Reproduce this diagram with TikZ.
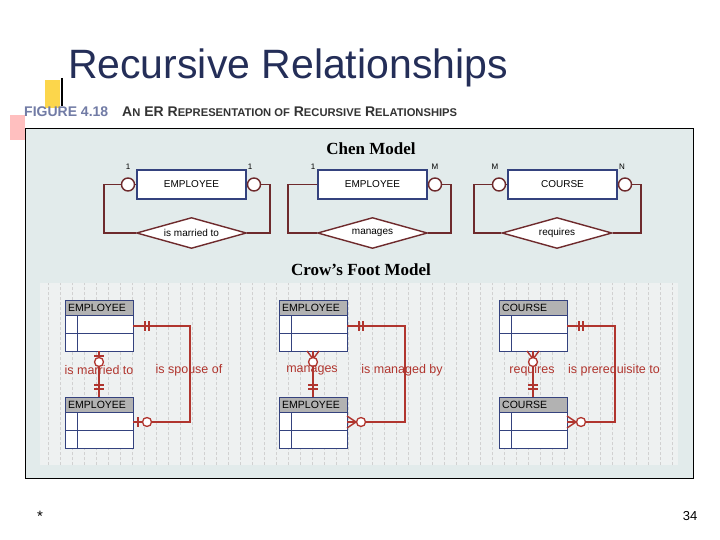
\documentclass[tikz,border=0pt]{standalone}
\usepackage{fontspec}
\usetikzlibrary{shapes.geometric}
\setmainfont{Liberation Sans}
\newfontfamily\serifx{Liberation Serif}
\begin{document}
\begin{tikzpicture}[x=1pt,y=-1pt,
  chenline/.style={draw=maroon,line width=1.6pt},
  ent/.style={draw=navy,line width=1.3pt,fill=white,minimum width=109pt,minimum height=29pt,font=\fontsize{10}{11}\selectfont,inner sep=0pt},
  rel/.style={draw=maroon,line width=1.4pt,fill=white,font=\fontsize{10}{11}\selectfont,diamond,aspect=3.6,minimum width=110pt,minimum height=31pt,inner sep=0pt},
  card/.style={font=\fontsize{8}{9}\selectfont},
  crow/.style={draw=crimson,line width=1.4pt},
  lab/.style={text=crimson,font=\fontsize{12.5}{14}\selectfont},
  ring/.style={circle,draw=maroon,line width=1.4pt,fill=white,minimum size=13pt,inner sep=0pt},
  cring/.style={circle,draw=crimson,line width=1.3pt,fill=white,minimum size=9pt,inner sep=0pt}]
\definecolor{maroon}{HTML}{6E2A2C}
\definecolor{navy}{HTML}{34427E}
\definecolor{crimson}{HTML}{B0352E}
\definecolor{panel}{HTML}{E2EBEB}
\definecolor{gridbg}{HTML}{EEF1F1}
\useasboundingbox (0,0) rectangle (720,540);
\fill[white] (0,0) rectangle (720,540);
% decorations
\fill[yellow!60!orange!70] (45,80) rectangle (60,108);
\fill[red!25] (10,115) rectangle (25,140);
\draw[line width=1.2pt] (62,78) -- (62,106);
\node[font=\fontsize{41}{46}\selectfont,text=navy!70!black] (title) at (288,68) {Recursive Relationships};
\node[anchor=west,font=\fontsize{14}{16}\selectfont\bfseries,text=black!80,inner sep=0pt] (cap) at (24,112) {\textcolor{navy!70}{FIGURE 4.18}\quad A\scalebox{0.8}{N} ER R\scalebox{0.8}{EPRESENTATION OF} R\scalebox{0.8}{ECURSIVE} R\scalebox{0.8}{ELATIONSHIPS}};
% panel
\draw[fill=panel,line width=0.8pt] (25,128) rectangle (693,478);
\node[font=\serifx\bfseries\fontsize{17}{19}\selectfont] (chen) at (371,149) {Chen Model};
% Chen 1
\node[ent] (e1) at (191.5,184.5) {EMPLOYEE};
\node[rel] (r1) at (191.5,233) {is married to};
\node[ring] (c1a) at (128,184.5) {};
\node[ring] (c1b) at (254,184.5) {};
\draw[chenline] (c1a) -- (e1.west) (c1b) -- (e1.east);
\draw[chenline] (c1a.west) -- (104,184.5) -- (104,233) -- (r1.west);
\draw[chenline] (c1b.east) -- (270,184.5) -- (270,233) -- (r1.east);
\node[card] at (128,167) {1};\node[card] at (250,167) {1};
% Chen 2
\node[ent] (e2) at (372.5,184.5) {EMPLOYEE};
\node[rel] (r2) at (372.5,233) {manages};
\node[ring] (c2b) at (435,184.5) {};
\draw[chenline] (c2b) -- (e2.east);
\draw[chenline] (e2.west) -- (288,184.5) -- (288,233) -- (r2.west);
\draw[chenline] (c2b.east) -- (451,184.5) -- (451,233) -- (r2.east);
\node[card] at (313,167) {1};\node[card] at (435,167) {M};
% Chen 3
\node[ent] (e3) at (562.5,184.5) {COURSE};
\node[rel] (r3) at (557,233) {requires};
\node[ring] (c3a) at (499,184.5) {};
\node[ring] (c3b) at (625,184.5) {};
\draw[chenline] (c3a) -- (e3.west) (c3b) -- (e3.east);
\draw[chenline] (c3a.west) -- (474,184.5) -- (474,233) -- (r3.west);
\draw[chenline] (c3b.east) -- (641,184.5) -- (641,233) -- (r3.east);
\node[card] at (495,167) {M};\node[card] at (622,167) {N};
\node[font=\serifx\bfseries\fontsize{17}{19}\selectfont] (crowt) at (361,270) {Crow’s Foot Model};
% grid area
\fill[gridbg] (40,283) rectangle (678,465);
\draw[black!18,densely dashed,line width=0.3pt,step=12] (40,283) grid (678,465);
% tables
\foreach \n/\x/\y/\t in {t1/65/300/EMPLOYEE,b1/65/397/EMPLOYEE,t2/279/300/EMPLOYEE,b2/279/397/EMPLOYEE,t3/499/300/COURSE,b3/499/397/COURSE}{
  \fill[white] (\x,\y) rectangle ++(68,51);
  \fill[black!30] (\x,\y) rectangle ++(68,15);
  \draw[navy,line width=1pt] (\x,\y) rectangle ++(68,51);
  \draw[navy,line width=1pt] (\x,\y+15) -- ++(68,0) (\x,\y+33) -- ++(68,0) (\x+12,\y+15) -- ++(0,36);
  \node[anchor=west,inner sep=0pt,font=\fontsize{10.5}{11}\selectfont] (\n) at (\x+3,\y+7.5) {\t};
}
% connectors
\foreach \x/\r in {0/190,214/405,434/615}{
  \draw[crow] (133+\x,326) -- (\r,326) -- (\r,422) -- (133+\x,422);
  \draw[crow] (99+\x,351) -- (99+\x,397);
  \draw[crow] (145+\x,321) -- ++(0,10) (149+\x,321) -- ++(0,10);
  \draw[crow] (94+\x,385) -- ++(10,0) (94+\x,389) -- ++(10,0);
}
\draw[crow] (138,417) -- ++(0,10); \node[cring] (o1) at (147,422) {};
\draw[crow] (94,356) -- ++(10,0); \node[cring] (o2) at (99,362) {};
\foreach \x in {214,434}{
  \draw[crow] (133+\x,416) -- (142+\x,422) -- (133+\x,428);
  \node[cring] at (147+\x,422) {};
  \draw[crow] (93+\x,351) -- (99+\x,359) -- (105+\x,351);
  \node[cring] at (99+\x,362) {};
}
\node[lab] (l1) at (99,370) {is married to};
\node[lab] (l2) at (189,370) {is spouse of};
\node[lab] (l3) at (312,370) {manages};
\node[lab] (l4) at (402,370) {is managed by};
\node[lab] (l5) at (532,370) {requires};
\node[lab] (l6) at (614,370) {is prerequisite to};
\node[font=\fontsize{15}{16}\selectfont] (star) at (40,516) {*};
\node[font=\fontsize{13}{15}\selectfont] (pg) at (690,516) {34};
\end{tikzpicture}
\end{document}
